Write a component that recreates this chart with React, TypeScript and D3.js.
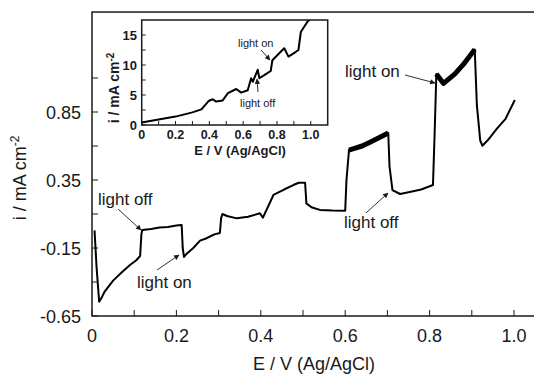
import * as d3 from 'd3'

// main sweep: potential (V vs Ag/AgCl) and current density (mA cm-2)
const mainE = [
  0.006, 0.011, 0.017, 0.022, 0.03, 0.05, 0.07, 0.09, 0.105, 0.114, 0.117, 0.119,
  0.14, 0.16, 0.18, 0.2, 0.2125, 0.215, 0.218, 0.225, 0.24, 0.256, 0.27, 0.29, 0.303,
  0.306, 0.309, 0.32, 0.343, 0.37, 0.398, 0.405, 0.43, 0.455, 0.477, 0.49, 0.505,
  0.508, 0.52, 0.54, 0.57, 0.6, 0.603, 0.609, 0.62, 0.64, 0.66, 0.68, 0.702,
  0.705, 0.712, 0.73, 0.75, 0.78, 0.808, 0.812, 0.816, 0.833, 0.86, 0.88, 0.907,
  0.912, 0.92, 0.925, 0.94, 0.96, 0.98, 1.002,
]
const mainI = [
  -0.02, -0.3, -0.545, -0.52, -0.47, -0.39, -0.33, -0.275, -0.24, -0.209, -0.05, -0.018,
  -0.01, 0.0, 0.005, 0.015, 0.019, -0.15, -0.216, -0.19, -0.15, -0.096, -0.08, -0.05, -0.04,
  0.07, 0.1, 0.085, 0.068, 0.08, 0.105, 0.073, 0.24, 0.28, 0.313, 0.33, 0.33,
  0.178, 0.15, 0.13, 0.125, 0.124, 0.35, 0.57, 0.58, 0.6, 0.63, 0.66, 0.695,
  0.45, 0.276, 0.247, 0.26, 0.28, 0.313, 0.7, 1.13, 1.06, 1.13, 1.2, 1.31,
  0.9, 0.64, 0.602, 0.65, 0.73, 0.8, 0.938,
]
// illuminated intervals (noisy, drawn thick)
const lightOn = [[0.609, 0.702], [0.816, 0.907]]

const xTicks = [0, 0.1, 0.2, 0.3, 0.4, 0.5, 0.6, 0.7, 0.8, 0.9, 1.0]
const xLabels = [0, 0.2, 0.4, 0.6, 0.8, 1.0]
const yTicks = [-0.65, -0.4, -0.15, 0.1, 0.35, 0.6, 0.85, 1.1]
const yLabels = [-0.65, -0.15, 0.35, 0.85]

// inset: dark sweep, larger scale
const insetE = [
  0, 0.1, 0.2, 0.3, 0.353, 0.375, 0.398, 0.421, 0.44, 0.479, 0.51, 0.559, 0.588,
  0.627, 0.647, 0.657, 0.686, 0.696, 0.725, 0.763, 0.773, 0.822, 0.843, 0.868,
  0.912, 0.927, 0.941, 0.98, 1.0,
]
const insetI = [
  0.4, 0.9, 1.4, 2.1, 2.6, 3.3, 4.05, 4.3, 3.9, 4.1, 5.3, 6.0, 5.4,
  5.8, 7.8, 7.2, 9.2, 7.8, 8.3, 9.0, 10.8, 12.2, 12.8, 11.4,
  12.2, 12.5, 15.5, 17.2, 17.8,
]
const insetXTicks = [0, 0.1, 0.2, 0.3, 0.4, 0.5, 0.6, 0.7, 0.8, 0.9, 1.0]
const insetXLabels = [0, 0.2, 0.4, 0.6, 0.8, 1.0]
const insetYTicks = [0, 2.5, 5, 7.5, 10, 12.5, 15]
const insetYLabels = [0, 5, 10, 15]

const W = 534
const H = 376
const font = 'Liberation Sans, Arial, sans-serif'
const ink = '#1a1a1a'

export default function App() {
  const x = d3.scaleLinear().domain([0, 1]).range([92, 514])
  const y = d3.scaleLinear().domain([-0.65, 0.85]).range([316, 112])
  const xMax = x(1.06)
  const yTop = y(1.585)

  const pts: [number, number][] = mainE.map((e, i) => [e, mainI[i]])
  const line = d3.line<[number, number]>().x(d => x(d[0])).y(d => y(d[1]))

  const ix = d3.scaleLinear().domain([0, 1.1]).range([141.7, 327.7])
  const iy = d3.scaleLinear().domain([0, 17.5]).range([125, 20])
  const ipts: [number, number][] = insetE.map((e, i) => [e, insetI[i]])
  const iline = d3.line<[number, number]>().x(d => ix(d[0])).y(d => iy(d[1]))

  const arrow = (x1: number, y1: number, x2: number, y2: number, key: string) => (
    <line key={key} x1={x1} y1={y1} x2={x2} y2={y2} stroke={ink} strokeWidth={0.9} markerEnd="url(#ah)" />
  )

  return (
    <svg width={W} height={H} style={{ position: 'absolute', left: 0, top: 0 }} fontFamily={font}>
      <defs>
        <marker id="ah" viewBox="0 0 10 10" refX="9" refY="5" markerWidth="8" markerHeight="6" orient="auto">
          <path d="M0,0 L10,5 L0,10 z" fill={ink} />
        </marker>
        <clipPath id="inclip">
          <rect x={ix(0)} y={iy(17.5)} width={ix(1.1) - ix(0)} height={iy(0) - iy(17.5)} />
        </clipPath>
      </defs>
      <rect width={W} height={H} fill="#fff" />

      {/* main frame */}
      <rect x={x(0)} y={yTop} width={xMax - x(0)} height={y(-0.65) - yTop} fill="none" stroke={ink} strokeWidth={1.5} />
      {xTicks.map(t => (
        <line key={'xt' + t} x1={x(t)} x2={x(t)} y1={y(-0.65)} y2={y(-0.65) - 6} stroke={ink} strokeWidth={1} />
      ))}
      {yTicks.map(t => (
        <line key={'yt' + t} x1={x(0)} x2={x(0) + 6} y1={y(t)} y2={y(t)} stroke={ink} strokeWidth={1} />
      ))}
      {xLabels.map(t => (
        <text key={'xl' + t} x={x(t)} y={342} fontSize={18} textAnchor="middle" fill={ink}>
          {t === 0 ? '0' : t.toFixed(1)}
        </text>
      ))}
      {yLabels.map(t => (
        <text key={'yl' + t} x={81} y={y(t) + 6.5} fontSize={18} textAnchor="end" fill={ink}>
          {t.toFixed(2)}
        </text>
      ))}
      <text x={314} y={370} fontSize={18} textAnchor="middle" fill={ink}>E / V (Ag/AgCl)</text>
      <text transform="translate(26,178) rotate(-90)" fontSize={18} textAnchor="middle" fill={ink}>
        i / mA cm<tspan dy={-7} fontSize={12}>-2</tspan>
      </text>

      {/* main curve */}
      <path d={line(pts) || ''} fill="none" stroke="#000" strokeWidth={2} strokeLinejoin="round" />
      {lightOn.map(([a, b], k) => (
        <path key={'on' + k} d={line(pts.filter(p => p[0] >= a && p[0] <= b)) || ''} fill="none"
          stroke="#000" strokeWidth={5} strokeLinejoin="round" />
      ))}

      {/* annotations */}
      <text x={98} y={205} fontSize={17} fill={ink}>light off</text>
      {arrow(118, 209, 141, 230, 'a1')}
      <text x={137} y={288} fontSize={17} fill={ink}>light on</text>
      {arrow(157, 270, 179, 255, 'a2')}
      <text x={345} y={77} fontSize={17} fill={ink}>light on</text>
      {arrow(405, 75, 435, 83, 'a3')}
      <text x={344} y={228} fontSize={17} fill={ink}>light off</text>
      {arrow(366, 213, 388, 193, 'a4')}

      {/* inset */}
      <rect x={ix(0)} y={iy(17.5)} width={ix(1.1) - ix(0)} height={iy(0) - iy(17.5)} fill="#fff" stroke={ink} strokeWidth={1.5} />
      {insetXTicks.map(t => (
        <line key={'ixt' + t} x1={ix(t)} x2={ix(t)} y1={iy(0)} y2={iy(0) - 4} stroke={ink} strokeWidth={1} />
      ))}
      {insetYTicks.map(t => (
        <line key={'iyt' + t} x1={ix(0)} x2={ix(0) + 4} y1={iy(t)} y2={iy(t)} stroke={ink} strokeWidth={1} />
      ))}
      {insetXLabels.map(t => (
        <text key={'ixl' + t} x={ix(t)} y={139} fontSize={12.5} fontWeight="bold" textAnchor="middle" fill={ink}>
          {t === 0 ? '0' : t.toFixed(1)}
        </text>
      ))}
      {insetYLabels.map(t => (
        <text key={'iyl' + t} x={137} y={iy(t) + 5} fontSize={13} fontWeight="bold" textAnchor="end" fill={ink}>
          {t}
        </text>
      ))}
      <text x={240} y={155} fontSize={13} fontWeight="bold" textAnchor="middle" fill={ink}>E / V (Ag/AgCl)</text>
      <text transform="translate(119,88) rotate(-90)" fontSize={14} fontWeight="bold" textAnchor="middle" fill={ink}>
        i / mA cm<tspan dy={-5} fontSize={10}>-2</tspan>
      </text>
      <path d={iline(ipts) || ''} fill="none" stroke="#000" strokeWidth={2} strokeLinejoin="round" clipPath="url(#inclip)" />
      <text x={238} y={47} fontSize={11} fill={ink}>light on</text>
      {arrow(261, 50, 270, 60, 'b1')}
      <text x={240} y={107} fontSize={11} fill={ink}>light off</text>
      {arrow(258, 92, 257, 79, 'b2')}
    </svg>
  )
}
